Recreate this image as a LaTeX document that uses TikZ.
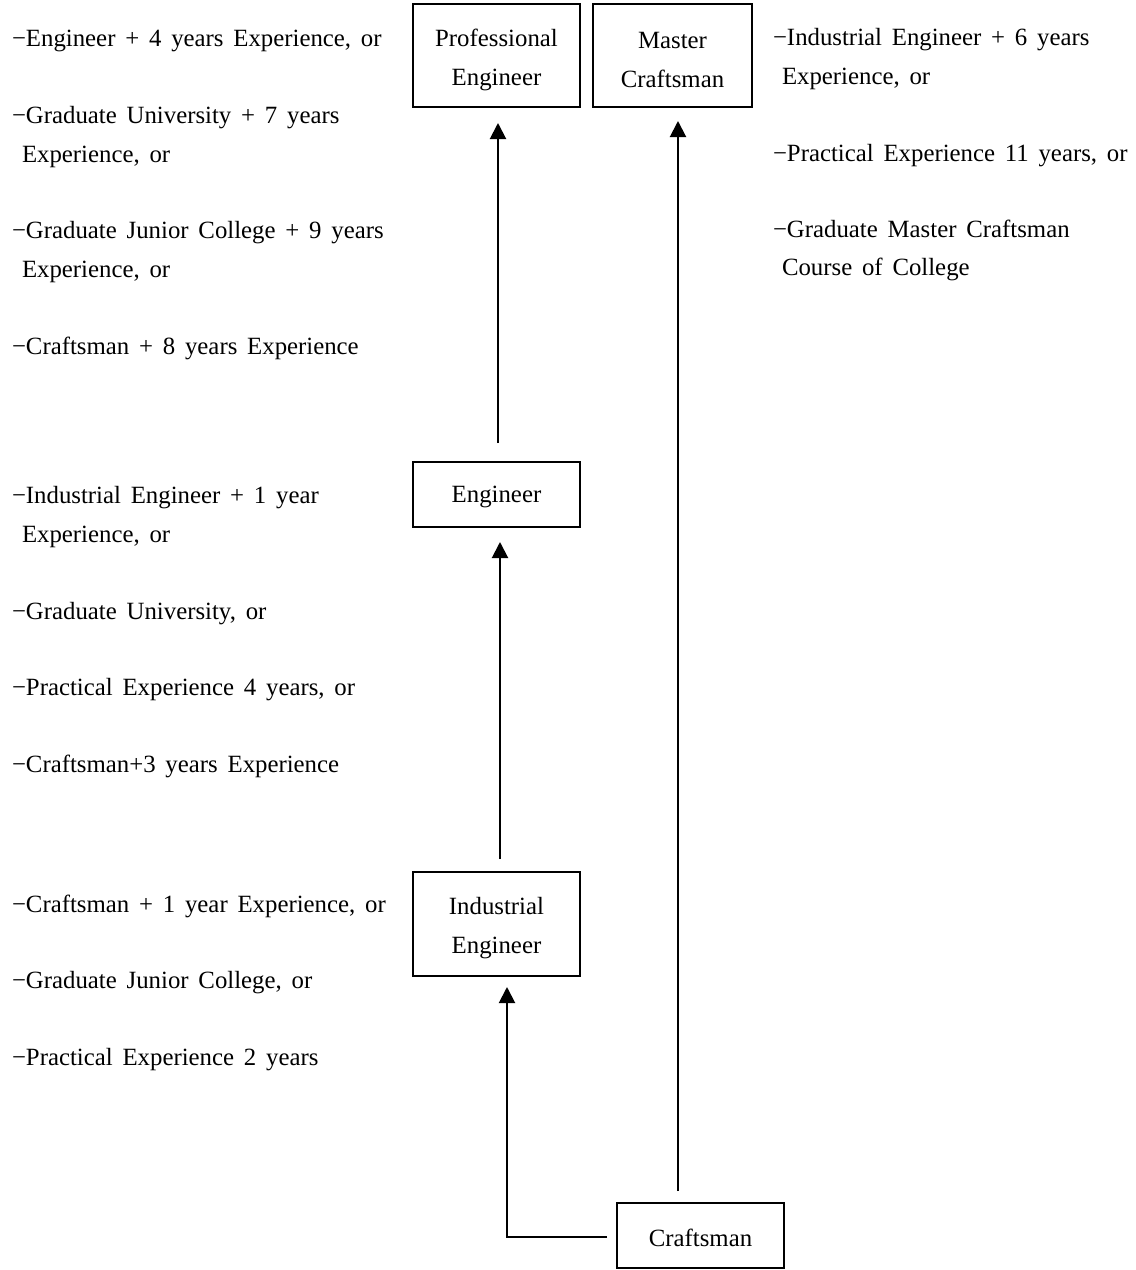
\documentclass[tikz,border=0pt]{standalone}
\usepackage{fontspec}
\setmainfont{Liberation Serif}
\usetikzlibrary{arrows.meta}
\newcommand{\reffont}{\fontsize{12.4}{19.5}\selectfont\spaceskip=4.9pt\relax}
\begin{document}
\begin{tikzpicture}[x=0.5pt,y=-0.5pt,
  txt/.style={anchor=base west,inner sep=0pt,outer sep=0pt,font=\reffont},
  rbox/.style={draw,line width=1pt,inner sep=0pt,outer sep=0pt},
  btxt/.style={inner sep=0pt,outer sep=0pt,align=center,font=\reffont},
  conn/.style={line width=1pt,-{Triangle[length=8pt,width=8pt]}}]
\useasboundingbox (0,0) rectangle (1136,1270);
% boxes
\node[rbox,minimum width=83.5pt,minimum height=51.5pt] (pe) at (496.5,55.5) {};
\node[rbox,minimum width=79.5pt,minimum height=51.5pt] (mc) at (672.5,55.5) {};
\node[rbox,minimum width=83.5pt,minimum height=32.5pt] (eng) at (496.5,494.5) {};
\node[rbox,minimum width=83.5pt,minimum height=52pt] (ie) at (496.5,924) {};
\node[rbox,minimum width=83.5pt,minimum height=32.5pt] (cr) at (700.5,1235.5) {};
% box texts
\node[btxt] (pet) at ([yshift=-2pt]pe.center) {Professional\\Engineer};
\node[btxt] (mct) at ([yshift=-2pt]mc.center) {Master\\Craftsman};
\node[btxt] (engt) at ([yshift=-1pt]eng.center) {Engineer};
\node[btxt] (iet) at ([yshift=-2pt]ie.center) {Industrial\\Engineer};
\node[btxt] (crt) at ([yshift=-1pt]cr.center) {Craftsman};
% connectors
\draw[conn,shorten <=9.5pt,shorten >=8pt] ([xshift=0.75pt]eng.north) -- ([xshift=0.75pt]pe.south);
\draw[conn,shorten <=6.5pt,shorten >=7.5pt] ([xshift=1.75pt]ie.north) -- ([xshift=1.75pt]eng.south);
\draw[conn,shorten <=5pt,shorten >=5.5pt] ([yshift=-0.75pt]cr.west) -| ([xshift=5.25pt]ie.south);
\draw[conn,shorten <=6pt,shorten >=7pt] ([xshift=-11.25pt]cr.north) -- ([xshift=2.75pt]mc.south);
% left texts
\node[txt] (l1) at (12,46) {−Engineer + 4 years Experience, or};
\node[txt] (l2) at (12,123) {−Graduate University + 7 years};
\node[txt] (l3) at (22,162) {Experience, or};
\node[txt] (l4) at (12,238) {−Graduate Junior College + 9 years};
\node[txt] (l5) at (22,277) {Experience, or};
\node[txt] (l6) at (12,354) {−Craftsman + 8 years Experience};
\node[txt] (l7) at (12,503) {−Industrial Engineer + 1 year};
\node[txt] (l8) at (22,542) {Experience, or};
\node[txt] (l9) at (12,619) {−Graduate University, or};
\node[txt] (l10) at (12,695) {−Practical Experience 4 years, or};
\node[txt] (l11) at (12,772) {−Craftsman+3 years Experience};
\node[txt] (l12) at (12,912) {−Craftsman + 1 year Experience, or};
\node[txt] (l13) at (12,988) {−Graduate Junior College, or};
\node[txt] (l14) at (12,1065) {−Practical Experience 2 years};
% right texts
\node[txt] (r1) at (773,45) {−Industrial Engineer + 6 years};
\node[txt] (r2) at (782,84) {Experience, or};
\node[txt] (r3) at (773,161) {−Practical Experience 11 years, or};
\node[txt] (r4) at (773,237) {−Graduate Master Craftsman};
\node[txt] (r5) at (782,275) {Course of College};
\end{tikzpicture}
\end{document}
